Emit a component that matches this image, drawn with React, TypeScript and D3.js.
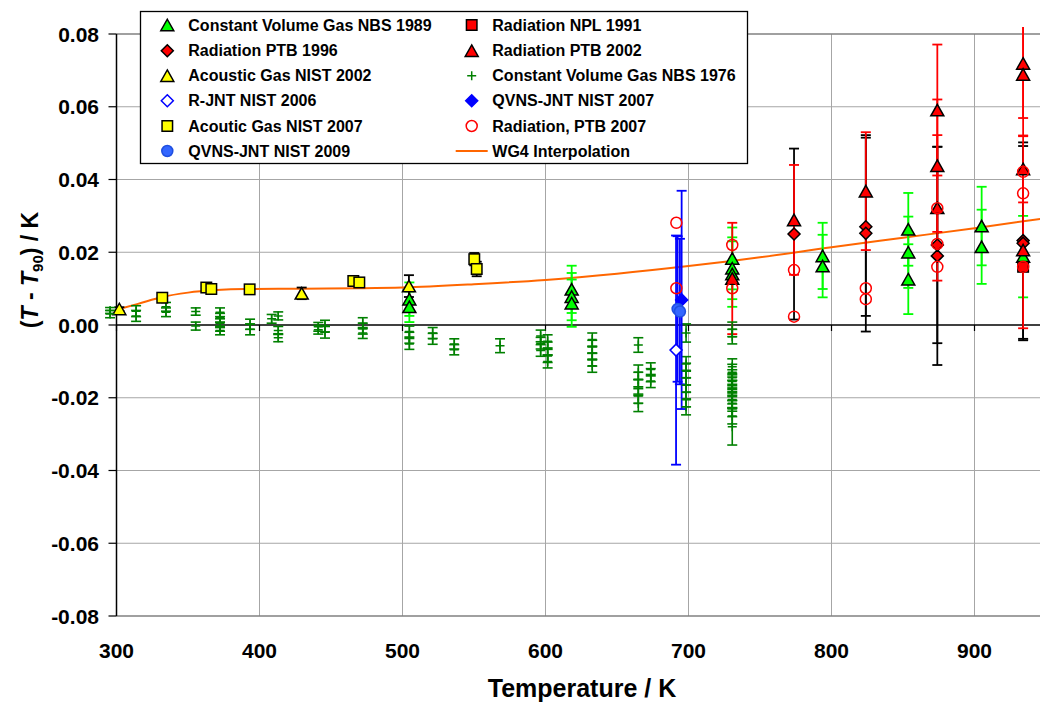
import React from "react";
import * as d3 from "d3";

// [T / K, (T - T90) / K, error / K]
type Pt = [number, number, number];

const cvgNbs1989: Pt[] = [
  [504.8, 0.0071, 0.0046], [504.8, 0.0050, 0.0042],
  [618.3, 0.0098, 0.0065], [618.3, 0.0078, 0.0065], [618.3, 0.0060, 0.0065],
  [730.6, 0.0183, 0.0085], [730.6, 0.0156, 0.0085], [730.6, 0.0140, 0.009],
  [793.8, 0.0190, 0.0091], [793.8, 0.0162, 0.0086],
  [853.7, 0.0263, 0.010], [853.7, 0.0200, 0.0098], [853.7, 0.0126, 0.0096],
  [905.0, 0.0272, 0.0108], [905.0, 0.0215, 0.0102],
  [934.0, 0.0188, 0.0112],
];

const radNpl1991: Pt[] = [[934.0, 0.0160, 0]];

const radPtb1996: Pt[] = [
  [773.8, 0.0250, 0.0235],
  [824.0, 0.0270, 0.0245], [824.0, 0.0252, 0.0270],
  [874.0, 0.0220, 0.0270], [874.0, 0.0190, 0.0300],
  [934.0, 0.0232, 0.0270], [934.0, 0.0225, 0.0267],
];

const radPtb2002: Pt[] = [
  [730.6, 0.0128, 0.0153],
  [773.8, 0.0289, 0.0151],
  [824.0, 0.0368, 0.0162],
  [874.0, 0.0591, 0.0180], [874.0, 0.0438, 0.0182], [874.0, 0.0322, 0.0200],
  [934.0, 0.0719, 0.0150], [934.0, 0.0689, 0.0170], [934.0, 0.0429, 0.0092], [934.0, 0.0206, 0.0215],
];

const agNist2002: Pt[] = [
  [302.0, 0.0044, 0.0005],
  [429.5, 0.0087, 0.0016],
  [504.5, 0.0107, 0.0030],
];

const cvgNbs1976: Pt[] = [
  [295.5, 0.0030, 0.0010], [295.5, 0.0040, 0.0008],
  [313.7, 0.0025, 0.0015], [313.7, 0.0038, 0.0015],
  [334.6, 0.0035, 0.0012], [334.6, 0.0050, 0.0012],
  [355.4, 0.0037, 0.0010], [355.4, -0.0003, 0.0011],
  [372.4, 0.0035, 0.0012], [372.4, 0.0020, 0.0012], [372.4, 0.0005, 0.0012], [372.4, -0.0005, 0.0012], [372.4, -0.0015, 0.0012],
  [393.4, 0.0002, 0.0014], [393.4, -0.0012, 0.0015],
  [408.5, 0.0017, 0.0012],
  [413.1, 0.0025, 0.0011], [413.1, -0.0015, 0.0011], [413.1, -0.0035, 0.0011],
  [441.1, -0.0005, 0.0012], [441.1, -0.0013, 0.0012],
  [445.8, -0.0003, 0.0016], [445.8, -0.0020, 0.0016],
  [472.2, 0.0005, 0.0015], [472.2, -0.0010, 0.0015], [472.2, -0.0022, 0.0015],
  [504.8, -0.0018, 0.0015], [504.8, -0.0035, 0.0015], [504.8, -0.0052, 0.0015],
  [521.1, -0.0022, 0.0015], [521.1, -0.0038, 0.0015],
  [536.2, -0.0052, 0.0014], [536.2, -0.0068, 0.0014],
  [568.2, -0.0057, 0.0019],
  [596.6, -0.0030, 0.0016], [596.6, -0.0050, 0.0016], [596.6, -0.0070, 0.0016],
  [601.5, -0.0045, 0.0018], [601.5, -0.0065, 0.0018], [601.5, -0.0085, 0.0018], [601.5, -0.0100, 0.0018],
  [632.7, -0.0040, 0.0018], [632.7, -0.0060, 0.0018], [632.7, -0.0078, 0.0018], [632.7, -0.0095, 0.0018], [632.7, -0.0112, 0.0018],
  [664.9, -0.0055, 0.0020], [664.9, -0.0130, 0.0020], [664.9, -0.0150, 0.0020], [664.9, -0.0170, 0.0020], [664.9, -0.0195, 0.0020], [664.9, -0.0216, 0.0022],
  [673.6, -0.0122, 0.0018], [673.6, -0.0138, 0.0018], [673.6, -0.0154, 0.0018],
  [698.3, -0.0022, 0.0025], [698.3, -0.0107, 0.0020], [698.3, -0.0125, 0.0020], [698.3, -0.0145, 0.0020],
  [698.3, -0.0165, 0.0020], [698.3, -0.0185, 0.0020], [698.3, -0.0205, 0.0020], [698.3, -0.0225, 0.0022],
  [730.6, -0.0012, 0.0020], [730.6, -0.0032, 0.0020],
  [730.6, -0.0115, 0.0022], [730.6, -0.0130, 0.0022], [730.6, -0.0145, 0.0022], [730.6, -0.0155, 0.0022],
  [730.6, -0.0165, 0.0022], [730.6, -0.0175, 0.0022], [730.6, -0.0185, 0.0022], [730.6, -0.0195, 0.0022],
  [730.6, -0.0205, 0.0022], [730.6, -0.0215, 0.0022], [730.6, -0.0230, 0.0022], [730.6, -0.0250, 0.0022],
  [730.6, -0.0280, 0.0050],
];

const rjntNist2006: Pt[] = [[691.3, -0.0069, 0.0315]];
const qvnsNist2007: Pt[] = [[695.2, 0.0069, 0.0300]];

const agNist2007: Pt[] = [
  [332.0, 0.0075, 0.0004], [362.8, 0.0103, 0.0004], [366.3, 0.0099, 0.0004], [393.1, 0.0098, 0.0004],
  [465.6, 0.0121, 0.0004], [469.8, 0.0117, 0.0004], [550.2, 0.0181, 0.0017], [551.9, 0.0154, 0.0020],
];

const radPtb2007: Pt[] = [
  [691.5, 0.0281, 0], [691.5, 0.0101, 0],
  [730.6, 0.0220, 0], [730.6, 0.0101, 0],
  [773.8, 0.0151, 0], [773.8, 0.0023, 0],
  [824.0, 0.0101, 0], [824.0, 0.0071, 0],
  [874.0, 0.0321, 0], [874.0, 0.0223, 0], [874.0, 0.0160, 0],
  [934.0, 0.0421, 0], [934.0, 0.0362, 0], [934.0, 0.0160, 0],
];

const qvnsNist2009: Pt[] = [[692.4, 0.0044, 0.0200], [694.0, 0.0037, 0.0200]];

const wg4T = [302.9, 315, 332, 350, 370, 390, 430, 470, 500, 550, 600, 650, 700, 730, 750, 800, 850, 900, 950];
const wg4V = [0.0045, 0.0058, 0.0077, 0.0089, 0.0096, 0.0099, 0.0100, 0.0101, 0.0103, 0.0112, 0.0124, 0.0141, 0.0162, 0.0176, 0.0186, 0.0214, 0.0240, 0.0266, 0.0294];

const xTicks = [300, 400, 500, 600, 700, 800, 900, 1000];
const yTicks = [-0.08, -0.06, -0.04, -0.02, 0, 0.02, 0.04, 0.06, 0.08];

type Marker = "triangle" | "square" | "diamond" | "circle" | "plus" | "line";
interface Series {
  name: string;
  data: Pt[];
  marker: Marker;
  fill: string;
  stroke: string;
  errColor: string;
}

const series: Series[] = [
  { name: "Constant Volume Gas NBS 1989", data: cvgNbs1989, marker: "triangle", fill: "#00ff00", stroke: "#000", errColor: "#00ff00" },
  { name: "Radiation NPL 1991", data: radNpl1991, marker: "square", fill: "#ff0000", stroke: "#000", errColor: "#ff0000" },
  { name: "Radiation PTB 1996", data: radPtb1996, marker: "diamond", fill: "#ff0000", stroke: "#000", errColor: "#000" },
  { name: "Radiation PTB 2002", data: radPtb2002, marker: "triangle", fill: "#ff0000", stroke: "#000", errColor: "#ff0000" },
  { name: "Acoustic Gas NIST 2002", data: agNist2002, marker: "triangle", fill: "#ffff00", stroke: "#000", errColor: "#000" },
  { name: "Constant Volume Gas NBS 1976", data: cvgNbs1976, marker: "plus", fill: "none", stroke: "#008000", errColor: "#008000" },
  { name: "R-JNT NIST 2006", data: rjntNist2006, marker: "diamond", fill: "#fff", stroke: "#0000ff", errColor: "#0000ff" },
  { name: "QVNS-JNT NIST 2007", data: qvnsNist2007, marker: "diamond", fill: "#0000ff", stroke: "#0000ff", errColor: "#0000ff" },
  { name: "Acoutic Gas NIST 2007", data: agNist2007, marker: "square", fill: "#ffff00", stroke: "#000", errColor: "#000" },
  { name: "Radiation, PTB 2007", data: radPtb2007, marker: "circle", fill: "none", stroke: "#ff0000", errColor: "#ff0000" },
  { name: "QVNS-JNT NIST 2009", data: qvnsNist2009, marker: "circle", fill: "#3366ff", stroke: "#1f4fe0", errColor: "#0000ff" },
];

const W = 1040;
const H = 704;
const x = d3.scaleLinear().domain([300, 1000]).range([116.5, 1117.5]);
const y = d3.scaleLinear().domain([-0.08, 0.08]).range([616, 34]);
const FONT = "'Liberation Sans', Arial, Helvetica, sans-serif";

function MarkerShape({ m, cx, cy, fill, stroke }: { m: Marker; cx: number; cy: number; fill: string; stroke: string }) {
  const sw = 1.5;
  if (m === "triangle") {
    const w = 13, h = 11.5;
    return <path d={`M${cx},${cy - h / 2}L${cx + w / 2},${cy + h / 2}L${cx - w / 2},${cy + h / 2}Z`} fill={fill} stroke={stroke} strokeWidth={sw} strokeLinejoin="miter" />;
  }
  if (m === "square") {
    const s = 10.5;
    return <rect x={cx - s / 2} y={cy - s / 2} width={s} height={s} fill={fill} stroke={stroke} strokeWidth={sw} />;
  }
  if (m === "diamond") {
    const r = 6;
    return <path d={`M${cx},${cy - r}L${cx + r},${cy}L${cx},${cy + r}L${cx - r},${cy}Z`} fill={fill} stroke={stroke} strokeWidth={sw} />;
  }
  if (m === "circle") {
    return <circle cx={cx} cy={cy} r={5.5} fill={fill} stroke={stroke} strokeWidth={sw} />;
  }
  if (m === "plus") {
    return <path d={`M${cx - 4.5},${cy}H${cx + 4.5}M${cx},${cy - 4.5}V${cy + 4.5}`} stroke={stroke} strokeWidth={1.5} />;
  }
  return <line x1={cx - 16} x2={cx + 16} y1={cy} y2={cy} stroke="#ff6600" strokeWidth={2} />;
}

export default function App() {
  const line = d3
    .line<number>()
    .x((_, i) => x(wg4T[i]))
    .y((d) => y(d))
    .curve(d3.curveMonotoneX);

  const legendRows = [25, 50.7, 75.7, 100.7, 126, 151];
  const legendItems: { name: string; m: Marker; fill: string; stroke: string }[] = [
    ...series.map((s) => ({ name: s.name, m: s.marker, fill: s.fill, stroke: s.stroke })),
    { name: "WG4 Interpolation", m: "line" as Marker, fill: "none", stroke: "#ff6600" },
  ];

  return (
    <svg width={W} height={H} style={{ position: "absolute", left: 0, top: 0, background: "#fff" }} fontFamily={FONT}>
      <defs>
        <clipPath id="errClip">
          <rect x={0} y={27} width={W} height={600} />
        </clipPath>
      </defs>
      {/* grid */}
      {yTicks.filter((t) => t !== 0 && Math.abs(t) < 0.079).map((t) => (
        <line key={"gy" + t} x1={x(300)} x2={x(1000)} y1={y(t)} y2={y(t)} stroke="#a6a6a6" strokeWidth={1} />
      ))}
      {xTicks.filter((t) => t > 300).map((t) => (
        <line key={"gx" + t} x1={x(t)} x2={x(t)} y1={y(0.08)} y2={y(-0.08)} stroke="#a6a6a6" strokeWidth={1} />
      ))}
      <line x1={x(300)} x2={x(1000)} y1={y(0.08)} y2={y(0.08)} stroke="#808080" strokeWidth={1.5} />
      <line x1={x(300)} x2={x(1000)} y1={y(-0.08)} y2={y(-0.08)} stroke="#808080" strokeWidth={1.5} />

      {/* zero axis with ticks */}
      <line x1={x(300)} x2={x(1000)} y1={y(0)} y2={y(0)} stroke="#000" strokeWidth={1.5} />
      {xTicks.map((t) => (
        <line key={"tx" + t} x1={x(t)} x2={x(t)} y1={y(0)} y2={y(0) + 6} stroke="#000" strokeWidth={1.2} />
      ))}
      {/* left axis */}
      <line x1={x(300)} x2={x(300)} y1={y(0.08)} y2={y(-0.08)} stroke="#000" strokeWidth={1.5} />
      {yTicks.map((t) => (
        <g key={"ty" + t}>
          <line x1={x(300) - 8} x2={x(300)} y1={y(t)} y2={y(t)} stroke="#000" strokeWidth={1.2} />
          <text x={99} y={y(t) + 7.5} textAnchor="end" fontSize={21} fontWeight="bold">
            {t.toFixed(2)}
          </text>
        </g>
      ))}
      {xTicks.filter((t) => t < 1000).map((t) => (
        <text key={"lx" + t} x={x(t)} y={658} textAnchor="middle" fontSize={21} fontWeight="bold">
          {t}
        </text>
      ))}

      {/* WG4 interpolation */}
      <path d={line(wg4V) || ""} fill="none" stroke="#ff6600" strokeWidth={2} />

      {/* error bars */}
      <g clipPath="url(#errClip)">
        {series.map((s) =>
          s.data.filter((d) => d[2] > 0).map((d, i) => {
            const cx = x(d[0]);
            const y1 = y(d[1] + d[2]);
            const y2 = y(d[1] - d[2]);
            const cw = 5;
            return (
              <g key={s.name + "e" + i} stroke={s.errColor} strokeWidth={s.marker === "plus" ? 1.6 : 1.8}>
                <line x1={cx} x2={cx} y1={y1} y2={y2} />
                <line x1={cx - cw} x2={cx + cw} y1={y1} y2={y1} />
                <line x1={cx - cw} x2={cx + cw} y1={y2} y2={y2} />
              </g>
            );
          })
        )}
      </g>

      {/* markers */}
      {series.map((s) =>
        s.data.map((d, i) => (
          <MarkerShape key={s.name + "m" + i} m={s.marker} cx={x(d[0])} cy={y(d[1])} fill={s.fill} stroke={s.stroke} />
        ))
      )}

      {/* legend */}
      <rect x={140.5} y={11.5} width={607} height={152} fill="#fff" stroke="#000" strokeWidth={1.3} />
      {legendItems.map((it, i) => {
        const col = i % 2;
        const row = Math.floor(i / 2);
        const my = legendRows[row];
        const mx = col === 0 ? 167.3 : 471.7;
        const tx = col === 0 ? 188.3 : 492.3;
        return (
          <g key={"lg" + i}>
            <MarkerShape m={it.m} cx={mx} cy={my} fill={it.fill} stroke={it.stroke} />
            <text x={tx} y={my + 5.7} fontSize={16} fontWeight="bold">
              {it.name}
            </text>
          </g>
        );
      })}

      {/* axis titles */}
      <text x={582} y={697} textAnchor="middle" fontSize={25} fontWeight="bold">
        Temperature / K
      </text>
      <text transform="translate(38,270) rotate(-90)" textAnchor="middle" fontSize={23} fontWeight="bold">
        (<tspan fontStyle="italic">T</tspan> - <tspan fontStyle="italic">T</tspan>
        <tspan fontSize={15} dy={5}>90</tspan>
        <tspan dy={-5}>) / K</tspan>
      </text>
    </svg>
  );
}
